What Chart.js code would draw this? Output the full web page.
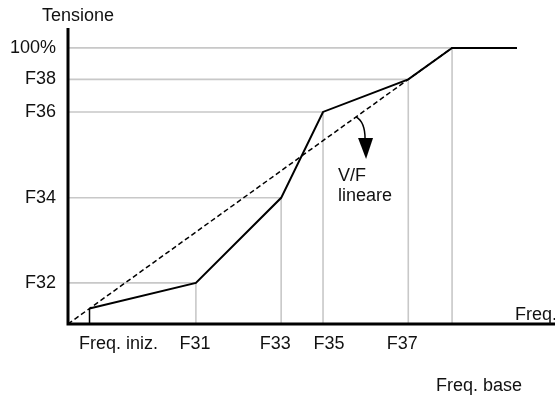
<!DOCTYPE html>
<html>
<head>
<meta charset="utf-8">
<script src="https://cdn.jsdelivr.net/npm/chart.js@4"></script>
<style>
  html, body { margin: 0; padding: 0; background: #fff; }
  #wrap { width: 555px; height: 396px; }
</style>
</head>
<body>
<div id="wrap"><canvas id="chart" width="555" height="396"></canvas></div>
<script>
// frequency points (percent of base frequency) and their names
const freqLabels = ['Freq. iniz.', 'F31', 'F33', 'F35', 'F37', 'Freq. base']
const freqValues = [5.6, 33.3, 55.5, 66.4, 88.6, 100]
// voltage points (percent of rated voltage) and their names
const voltLabels = ['', 'F32', 'F34', 'F36', 'F38', '100%']
const voltValues = [5.6, 14.9, 45.7, 76.8, 88.6, 100]
// end of the flat part after base frequency
const endFreq = 116.9
// linear V/F reference
const linearFreq = [0, 100]
const linearVolt = [0, 100]

const FONT = '18px "Liberation Sans", Arial, sans-serif'
const xLabelShift = [29, -1, -6, 6, -6, 27]

const curve = freqValues.map((f, i) => ({ x: f, y: voltValues[i] }))
curve.push({ x: endFreq, y: voltValues[voltValues.length - 1] })

const datasets = []

// grey drop lines from each point to both axes
for (let i = 1; i < freqValues.length; i++) {
  datasets.push({
    data: [
      { x: 0, y: voltValues[i] },
      { x: freqValues[i], y: voltValues[i] },
      { x: freqValues[i], y: 0 }
    ],
    borderColor: '#c8c8c8',
    borderWidth: 1.6,
    pointRadius: 0,
    order: 5
  })
}

// start frequency marker
datasets.push({
  data: [
    { x: freqValues[0], y: voltValues[0] },
    { x: freqValues[0], y: 0 }
  ],
  borderColor: '#000',
  borderWidth: 1.5,
  pointRadius: 0,
  order: 3
})

datasets.push({
  data: linearFreq.map((f, i) => ({ x: f, y: linearVolt[i] })),
  borderColor: '#000',
  borderWidth: 1.5,
  borderDash: [5, 3],
  pointRadius: 0,
  order: 2
})

datasets.push({
  data: curve,
  borderColor: '#000',
  borderWidth: 2,
  pointRadius: 0,
  order: 1
})

const axesText = {
  id: 'axesText',
  afterDraw(chart) {
    const ctx = chart.ctx
    const xs = chart.scales.x
    const ys = chart.scales.y
    const area = chart.chartArea
    ctx.save()
    ctx.strokeStyle = '#000'
    ctx.lineWidth = 3
    ctx.beginPath()
    ctx.moveTo(area.left, area.top)
    ctx.lineTo(area.left, area.bottom + 1.5)
    ctx.moveTo(area.left - 1.5, area.bottom)
    ctx.lineTo(chart.width, area.bottom)
    ctx.stroke()

    ctx.fillStyle = '#111'
    ctx.font = FONT
    ctx.textBaseline = 'middle'
    ctx.textAlign = 'right'
    voltLabels.forEach((t, i) => {
      if (t) ctx.fillText(t, area.left - 12, ys.getPixelForValue(voltValues[i]))
    })
    ctx.textAlign = 'center'
    ctx.fillText('Tensione', 78, 16)
    freqLabels.forEach((t, i) => {
      const px = xs.getPixelForValue(freqValues[i]) + xLabelShift[i]
      if (i === freqLabels.length - 1) ctx.fillText(t, px, 386)
      else ctx.fillText(t, px, 344)
    })
    ctx.textAlign = 'left'
    ctx.fillText('Freq.', 515, 315)
    ctx.fillText('V/F', 338, 176)
    ctx.fillText('lineare', 338, 196)

    // curved arrow pointing at the linear V/F line
    const ax = xs.getPixelForValue(75)
    const ay = ys.getPixelForValue(75)
    ctx.lineWidth = 1.5
    ctx.beginPath()
    ctx.moveTo(ax, ay)
    ctx.quadraticCurveTo(ax + 9, ay + 5, ax + 9, ay + 22)
    ctx.stroke()
    ctx.beginPath()
    ctx.moveTo(ax + 2, ay + 21)
    ctx.lineTo(ax + 17, ay + 21)
    ctx.lineTo(ax + 10, ay + 42)
    ctx.closePath()
    ctx.fillStyle = '#000'
    ctx.fill()
    ctx.restore()
  }
}

new Chart(document.getElementById('chart'), {
  type: 'line',
  data: { datasets },
  options: {
    responsive: false,
    animation: false,
    layout: { padding: { left: 68, top: 28, right: 0, bottom: 72 } },
    plugins: { legend: { display: false }, tooltip: { enabled: false } },
    scales: {
      x: { type: 'linear', display: false, min: 0, max: 126.8 },
      y: { type: 'linear', display: false, min: 0, max: 107.2 }
    }
  },
  plugins: [axesText]
})
</script>
</body>
</html>
